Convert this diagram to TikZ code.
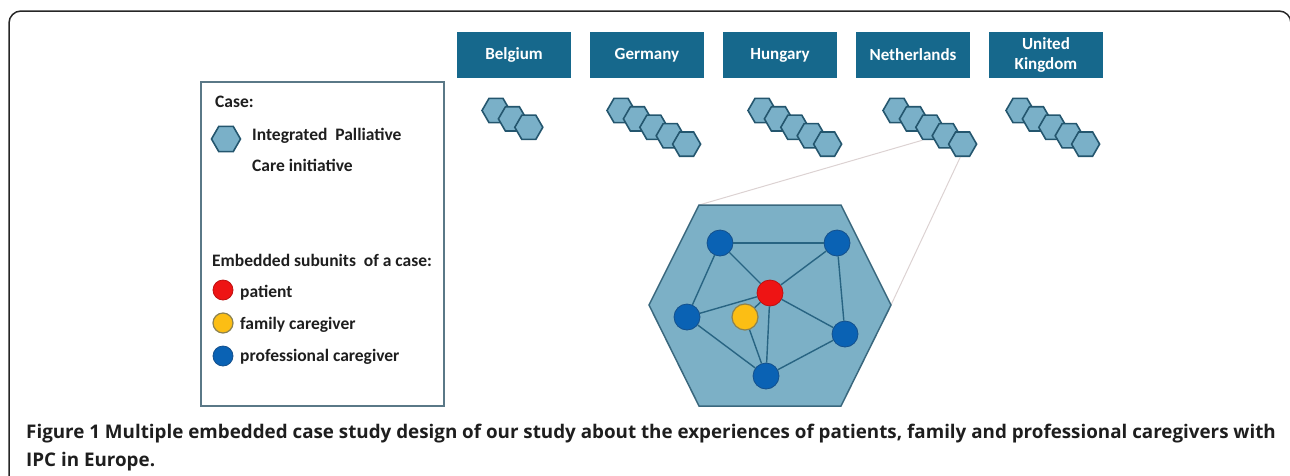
\documentclass[tikz,border=0pt]{standalone}
\usepackage{fontspec}
\setmainfont{Carlito}
\newfontfamily\capfont{Open Sans}
\usetikzlibrary{shapes.geometric}
\definecolor{boxblue}{RGB}{22,104,140}
\definecolor{hexfill}{RGB}{122,176,200}
\definecolor{hexline}{RGB}{36,86,110}
\definecolor{bigfill}{RGB}{124,176,198}
\definecolor{bigline}{RGB}{58,104,126}
\definecolor{netline}{RGB}{40,100,130}
\definecolor{problue}{RGB}{10,98,180}
\definecolor{problueline}{RGB}{20,80,140}
\definecolor{patred}{RGB}{238,20,20}
\definecolor{famyellow}{RGB}{252,190,20}
\definecolor{famline}{RGB}{140,130,80}
\definecolor{zoomline}{RGB}{220,210,210}
\definecolor{legline}{RGB}{90,120,135}
\definecolor{txt}{RGB}{30,30,30}
\tikzset{
  hexcell/.style={regular polygon, regular polygon sides=6, minimum size=28pt, inner sep=0pt, fill=hexfill, draw=hexline, line width=1.6pt},
  country/.style={fill=boxblue, text=white, font=\fontsize{17}{20}\selectfont\bfseries, minimum width=114pt, minimum height=46pt, align=center, inner sep=0pt},
  legtext/.style={anchor=base west, inner sep=0pt, text=txt, font=\fontsize{17.5}{20}\selectfont\bfseries},
  captext/.style={anchor=base west, inner sep=0pt, text=txt, font=\capfont\fontsize{18.8}{22}\selectfont\bfseries},
  pro/.style={circle, minimum size=26pt, inner sep=0pt, fill=problue, draw=problueline, line width=0.8pt},
  pat/.style={circle, minimum size=26pt, inner sep=0pt, fill=patred, draw=patred!80!black, line width=0.8pt},
  fam/.style={circle, minimum size=26pt, inner sep=0pt, fill=famyellow, draw=famline, line width=1.2pt},
  netedge/.style={draw=netline, line width=1.4pt},
  zoomedge/.style={draw=zoomline, line width=1pt},
}
\begin{document}
\begin{tikzpicture}[x=1pt,y=-1pt]
\useasboundingbox (0,0) rectangle (1290,475);
% frame
\draw[line width=1.5pt, black!85, rounded corners=12pt] (9,480) -- (9,11) -- (1291,11) -- (1291,480);

% legend box
\node[draw=legline, line width=1.5pt, inner sep=0pt, minimum width=243pt, minimum height=324pt, anchor=north west] (legend) at (200,81) {};
\node[legtext] (lcase) at (215,107) {Case:};
\node[hexcell, minimum size=29pt] (lhex) at (226,139) {};
\node[legtext] (lipc1) at (252,140) {Integrated\ \ Palliative};
\node[legtext] (lipc2) at (252,171) {Care initiative};
\node[legtext] (lemb) at (212,266) {Embedded subunits\ \ of a case:};
\node[pat, minimum size=20pt] (lred) at (223,290) {};
\node[legtext] (lpat) at (240,297) {patient};
\node[fam, minimum size=20pt] (lyel) at (223,323) {};
\node[legtext] (lfam) at (240,329) {family caregiver};
\node[pro, minimum size=20pt] (lblue) at (223,356) {};
\node[legtext] (lpro) at (240,361) {professional caregiver};

% country boxes
\node[country] (be) at (514,55) {Belgium};
\node[country] (de) at (647,55) {Germany};
\node[country] (hu) at (780,55) {Hungary};
\node[country] (nl) at (913,55) {Netherlands};
\node[country] (uk) at (1046,55) {United\\Kingdom};

% big hexagon coordinates
\coordinate (hL) at (649,305);
\coordinate (hTL) at (699,205);
\coordinate (hTR) at (841,205);
\coordinate (hR) at (891,305);
\coordinate (hBR) at (841,406);
\coordinate (hBL) at (699,406);

% chains
\foreach \nm/\cx/\n in {cbe/496/3, cde/621/5, chu/762/5, cnl/897/5, cuk/1020/5} {
  \foreach \i in {1,...,\n} {
    \node[hexcell] (\nm\i) at ({\cx+16.4*(\i-1)}, {110.5+8.4*(\i-1)}) {};
  }
}

% zoom connectors
\draw[zoomedge] (hTL) -- (cnl3.-120);
\draw[zoomedge] (hR) -- (cnl5.-100);

% big hexagon
\draw[fill=bigfill, draw=bigline, line width=1.5pt] (hL) -- (hTL) -- (hTR) -- (hR) -- (hBR) -- (hBL) -- cycle;

% network
\node[pro] (pTL) at (720,243) {};
\node[pro] (pTR) at (837,243) {};
\node[pat] (pRed) at (770,293) {};
\node[pro] (pL) at (687,317) {};
\node[fam] (pY) at (745,317) {};
\node[pro] (pR) at (845,334) {};
\node[pro] (pB) at (766,376) {};
\draw[netedge] (pTL) -- (pTR);
\draw[netedge] (pTL) -- (pRed);
\draw[netedge] (pTL) -- (pL);
\draw[netedge] (pTR) -- (pRed);
\draw[netedge] (pTR) -- (pR);
\draw[netedge] (pRed) -- (pL);
\draw[netedge] (pRed) -- (pR);
\draw[netedge] (pRed) -- (pB);
\draw[netedge] (pRed) -- (pY);
\draw[netedge] (pY) -- (pB);
\draw[netedge] (pL) -- (pB);
\draw[netedge] (pR) -- (pB);

% caption
\node[captext] (cap1) at (26,438.5) {Figure 1 Multiple embedded case study design of our study about the experiences of patients, family and professional caregivers with};
\node[captext] (cap2) at (26,466.5) {IPC in Europe.};
\end{tikzpicture}
\end{document}
